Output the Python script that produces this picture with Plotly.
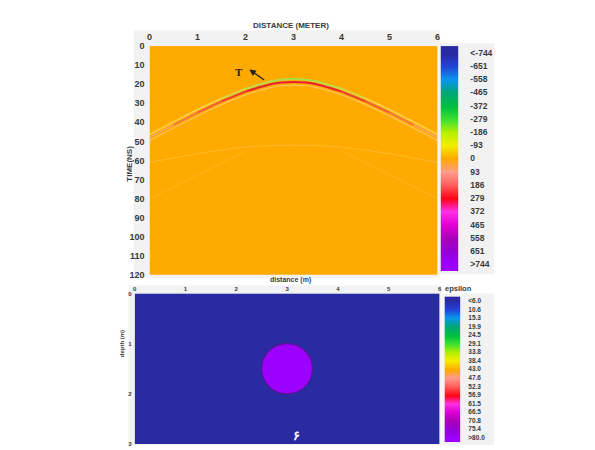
import plotly.graph_objects as go

# ---------------- data ----------------
distance_ticks = [0, 1, 2, 3, 4, 5, 6]
time_ticks = [0, 10, 20, 30, 40, 50, 60, 70, 80, 90, 100, 110, 120]
depth_ticks = [0, 1, 2, 3]

amp_levels = [-744, -651, -558, -465, -372, -279, -186, -93, 0, 93, 186, 279, 372, 465, 558, 651, 744]
amp_labels = ["<-744", "-651", "-558", "-465", "-372", "-279", "-186", "-93", "0",
              "93", "186", "279", "372", "465", "558", "651", ">744"]
eps_levels = [6.0, 10.6, 15.3, 19.9, 24.5, 29.1, 33.8, 38.4, 43.0, 47.6, 52.3, 56.9, 61.5, 66.5, 70.8, 75.4, 80.0]
eps_labels = ["<6.0", "10.6", "15.3", "19.9", "24.5", "29.1", "33.8", "38.4", "43.0",
              "47.6", "52.3", "56.9", "61.5", "66.5", "70.8", "75.4", ">80.0"]

scale_colors = ["#2a2aa2", "#2244d8", "#0a96ee", "#00a878", "#00c040", "#3ee032",
                "#b6f000", "#f4ee00", "#ffaa00", "#ff9c8c", "#ff5c5c", "#ff0414",
                "#ff30e4", "#e000d4", "#aa00b8", "#9400d6", "#9c00ff"]

# radargram: background amplitude and the diffraction hyperbola
background_amp = 0
hyp_dist = [0, 0.5, 1, 1.5, 2, 2.5, 2.75, 3, 3.25, 3.5, 4, 4.5, 5, 5.5, 6]
hyp_red_t = [47.9, 41.3, 34.9, 29.0, 23.9, 20.2, 19.1, 18.8, 19.1, 20.2, 23.9, 29.0, 34.9, 41.3, 47.9]
hyp_upper_t = [46.4, 39.8, 33.4, 27.5, 22.4, 18.7, 17.6, 17.3, 17.6, 18.7, 22.4, 27.5, 33.4, 39.8, 46.4]
hyp_lower_t = [49.6, 43.0, 36.6, 30.7, 25.6, 21.9, 20.8, 20.5, 20.8, 21.9, 25.6, 30.7, 36.6, 43.0, 49.6]
faint_dist = [0, 1, 2, 3, 4, 5, 6]
faint_t = [61.0, 56.5, 53.0, 52.0, 53.0, 56.5, 61.0]
diag_left_dist = [0, 2.0]
diag_left_t = [80, 55]
diag_right_dist = [6, 4.0]
diag_right_t = [80, 55]

# permittivity model
background_eps = 6.0
target_eps = 80.0
target_x = 3.0
target_depth = 1.5
target_radius = 0.5

colorscale = [[i / (len(scale_colors) - 1), c] for i, c in enumerate(scale_colors)]
FONT = "Liberation Sans"
TXT = "#3a3a3a"

fig = go.Figure()

# ---------- top radargram ----------
fig.add_trace(go.Heatmap(z=[[background_amp]], x=[0, 6], y=[0, 120], colorscale=colorscale,
                         zmin=amp_levels[0], zmax=amp_levels[-1], showscale=False,
                         xaxis="x", yaxis="y", hoverinfo="skip"))

def line(xs, ys, color, width, opacity=1.0, xa="x", ya="y", shape="spline"):
    fig.add_trace(go.Scatter(x=xs, y=ys, mode="lines", line=dict(color=color, width=width, shape=shape),
                             opacity=opacity, xaxis=xa, yaxis=ya, showlegend=False, hoverinfo="skip"))

def seg(ys, i0, i1, color, width, opacity):
    line(hyp_dist[i0:i1 + 1], ys[i0:i1 + 1], color, width, opacity)

line(diag_left_dist, diag_left_t, "#ffffff", 1, 0.12)
line(diag_right_dist, diag_right_t, "#ffffff", 1, 0.12)
line(faint_dist, faint_t, "#ffffff", 1, 0.18)
# faint flanks of the wavelet
line(hyp_dist, hyp_lower_t, "#ffd68a", 1.2, 0.6)
line(hyp_dist, hyp_upper_t, "#f6e66a", 1.5, 0.7)
line(hyp_dist, hyp_red_t, "#f5a08a", 1.3, 0.8)
# stronger near the apex
for (a, b, op) in [(1, 2, 0.3), (12, 13, 0.3), (2, 3, 0.55), (11, 12, 0.55), (3, 4, 0.8), (10, 11, 0.8), (4, 10, 1.0)]:
    seg(hyp_red_t, a, b, "#e8202c", 2.0, op)
for (a, b, op) in [(3, 4, 0.4), (10, 11, 0.4), (4, 5, 0.75), (9, 10, 0.75), (5, 9, 1.0)]:
    seg(hyp_upper_t, a, b, "#a6e046", 2.0, op)

# ---------- bottom model ----------
fig.add_trace(go.Heatmap(z=[[background_eps]], x=[0, 6], y=[0, 3], colorscale=colorscale,
                         zmin=eps_levels[0], zmax=eps_levels[-1], showscale=False,
                         xaxis="x2", yaxis="y2", hoverinfo="skip"))

# ---------- colour bars ----------
idx = list(range(len(amp_levels)))
fig.add_trace(go.Heatmap(z=[[v, v] for v in amp_levels], x=[0, 1], y=idx, colorscale=colorscale,
                         zmin=amp_levels[0], zmax=amp_levels[-1], zsmooth="best", showscale=False,
                         xaxis="x3", yaxis="y3", hoverinfo="skip"))
fig.add_trace(go.Heatmap(z=[[v, v] for v in eps_levels], x=[0, 1], y=idx, colorscale=colorscale,
                         zmin=eps_levels[0], zmax=eps_levels[-1], zsmooth="best", showscale=False,
                         xaxis="x4", yaxis="y4", hoverinfo="skip"))

W, H = 595, 450
def px(x): return x / W
def py(y): return 1 - y / H

tf_big = dict(family=FONT, size=9, color=TXT, weight="bold")
tf_small = dict(family=FONT, size=6, color=TXT, weight="bold")

fig.update_layout(
    width=W, height=H, autosize=False, margin=dict(l=0, r=0, t=0, b=0),
    paper_bgcolor="white", plot_bgcolor="white", showlegend=False,
    xaxis=dict(domain=[px(148), px(439)], range=[0, 6], side="top", anchor="y",
               tickvals=distance_ticks, ticks="", showgrid=False, zeroline=False,
               tickfont=tf_big, ticklabelstandoff=3),
    yaxis=dict(domain=[py(276), py(42)], range=[120, 0], anchor="x",
               tickvals=time_ticks, ticks="", showgrid=False, zeroline=False,
               tickfont=tf_big, ticklabelstandoff=4),
    xaxis2=dict(domain=[px(133), px(441)], range=[0, 6], side="top", anchor="y2",
                tickvals=distance_ticks, ticks="", showgrid=False, zeroline=False,
                tickfont=tf_small, ticklabelstandoff=0),
    yaxis2=dict(domain=[py(449), py(295)], range=[3, 0], anchor="x2",
                tickvals=depth_ticks, ticks="", showgrid=False, zeroline=False,
                tickfont=tf_small, ticklabelstandoff=2),
    xaxis3=dict(domain=[px(442), px(460)], range=[-0.5, 1.5], visible=False, anchor="y3"),
    yaxis3=dict(domain=[py(272), py(42)], range=[16.5, -0.5], anchor="x3", side="right",
                tickvals=idx, ticktext=amp_labels, ticks="", showgrid=False, zeroline=False,
                tickfont=dict(family=FONT, size=8.5, color=TXT, weight="bold"), ticklabelstandoff=11),
    xaxis4=dict(domain=[px(446), px(462)], range=[-0.5, 1.5], visible=False, anchor="y4"),
    yaxis4=dict(domain=[py(447), py(298)], range=[16.5, -0.5], anchor="x4", side="right",
                tickvals=idx, ticktext=eps_labels, ticks="", showgrid=False, zeroline=False,
                tickfont=dict(family=FONT, size=6.5, color=TXT, weight="bold"), ticklabelstandoff=7),
)

shapes = [
    dict(type="rect", xref="paper", yref="paper", x0=px(132), x1=px(441), y0=py(279), y1=py(26),
         fillcolor="#f2f2f2", line=dict(width=0), layer="below"),
    dict(type="rect", xref="paper", yref="paper", x0=px(440), x1=px(496), y0=py(275), y1=py(39),
         fillcolor="#f2f2f2", line=dict(width=0), layer="below"),
    dict(type="rect", xref="paper", yref="paper", x0=px(127), x1=px(443), y0=py(450), y1=py(287),
         fillcolor="#f2f2f2", line=dict(width=0), layer="below"),
    dict(type="rect", xref="paper", yref="paper", x0=px(444), x1=px(496), y0=py(450), y1=py(295),
         fillcolor="#f2f2f2", line=dict(width=0), layer="below"),
    dict(type="circle", xref="x2", yref="y2",
         x0=target_x - target_radius, x1=target_x + target_radius,
         y0=target_depth - target_radius, y1=target_depth + target_radius,
         fillcolor=scale_colors[-1], line=dict(color="#6a0a8a", width=1)),
]
fig.update_layout(shapes=shapes)

ann = [
    dict(text="DISTANCE (METER)", x=px(291), y=py(14), xref="paper", yref="paper", showarrow=False,
         font=dict(family=FONT, size=8, color=TXT, weight="bold")),
    dict(text="TIME(NS)", x=px(121), y=py(162), xref="paper", yref="paper", showarrow=False, textangle=-90,
         font=dict(family=FONT, size=8, color=TXT, weight="bold")),
    dict(text="distance (m)", x=px(290), y=py(281), xref="paper", yref="paper", showarrow=False,
         font=dict(family=FONT, size=7, color=TXT, weight="bold")),
    dict(text="depth (m)", x=px(116), y=py(362), xref="paper", yref="paper", showarrow=False, textangle=-90,
         font=dict(family=FONT, size=6, color=TXT, weight="bold")),
    dict(text="epsilon", x=px(476), y=py(290), xref="paper", yref="paper", showarrow=False,
         font=dict(family=FONT, size=7.5, color=TXT, weight="bold")),
    dict(text="T", x=1.86, y=13.4, xref="x", yref="y", showarrow=False,
         font=dict(family="Liberation Serif", size=11, color="#222222", weight="bold")),
    dict(text="", x=2.08, y=12.3, xref="x", yref="y", ax=2.42, ay=18.4, axref="x", ayref="y",
         showarrow=True, arrowhead=2, arrowsize=1, arrowwidth=1.3, arrowcolor="#222222"),
    dict(text="۶", x=3.19, y=2.83, xref="x2", yref="y2", showarrow=False,
         font=dict(family="Noto Sans", size=13, color="#ffffff", weight="bold")),
]
fig.update_layout(annotations=ann)

fig.write_html("out.html", config={"displayModeBar": False},
               post_script="document.body.style.margin='0';")
